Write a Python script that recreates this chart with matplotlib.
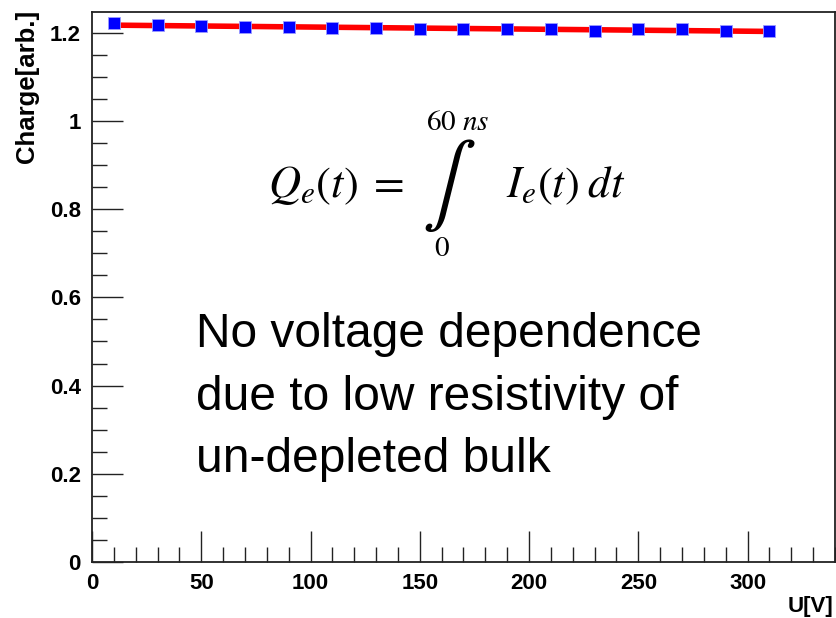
import numpy as np
import matplotlib
matplotlib.use("Agg")
import matplotlib.pyplot as plt
from matplotlib.ticker import MultipleLocator

# ---- data ----
voltage = [10, 30, 50, 70, 90, 110, 130, 150, 170, 190, 210, 230, 250, 270, 290, 310]
charge = [1.222, 1.218, 1.215, 1.212, 1.212, 1.211, 1.211, 1.208, 1.208, 1.208,
          1.208, 1.204, 1.208, 1.208, 1.204, 1.204]
x_ticks = [0, 50, 100, 150, 200, 250, 300]
y_ticks = [0, 0.2, 0.4, 0.6, 0.8, 1.0, 1.2]
y_tick_labels = ["0", "0.2", "0.4", "0.6", "0.8", "1", "1.2"]
x_label = "U[V]"
y_label = "Charge[arb.]"
note = "No voltage dependence\ndue to low resistivity of\nun-depleted bulk"

W, H = 836, 618
plt.rcParams["mathtext.fontset"] = "stix"
fig = plt.figure(figsize=(W / 100, H / 100), dpi=100)
ax = fig.add_axes([92 / W, 1 - 562 / H, (835 - 92) / W, (562 - 12) / H])

# fit line
coef = np.polyfit(voltage, charge, 1)
xf = np.array([voltage[0], voltage[-1]])
ax.plot(xf, np.polyval(coef, xf), color="#ff0000", lw=4, solid_capstyle="butt", zorder=2)
ax.plot(voltage, charge, ls="none", marker="s", ms=9, mfc="#0000ff",
        mec="#9c9cff", mew=0.6, zorder=3)

ax.set_xlim(0, 340)
ax.set_ylim(0, 1.247)
ax.set_xticks(x_ticks)
ax.set_yticks(y_ticks)
ax.set_yticklabels(y_tick_labels)
ax.xaxis.set_minor_locator(MultipleLocator(10))
ax.yaxis.set_minor_locator(MultipleLocator(0.05))
ax.tick_params(which="both", direction="in", top=False, right=False, color="#222222", width=1)
ax.tick_params(which="major", length=22)
ax.tick_params(which="minor", length=11)
ax.tick_params(axis="x", which="major", pad=8)
ax.tick_params(axis="y", which="major", pad=8)
for lab in ax.get_xticklabels() + ax.get_yticklabels():
    lab.set_fontfamily("Liberation Sans")
    lab.set_fontweight("bold")
    lab.set_fontsize(16)
for s in ax.spines.values():
    s.set_color("#222222")
    s.set_linewidth(1.3)


def px(x, y):
    return (x / W, 1 - y / H)


fig.text(*px(833, 617), x_label, ha="right", va="bottom",
         fontfamily="Liberation Sans", fontweight="bold", fontsize=16)
fig.text(*px(27, 10), y_label, ha="center", va="top", rotation=90,
         fontfamily="Liberation Sans", fontweight="bold", fontsize=18.5)

# formula
fig.text(*px(268, 197), r"$Q_e(t)\;=$", ha="left", va="baseline", fontsize=32)
fig.text(*px(449, 186), r"$\int$", ha="center", va="center", fontsize=58)
fig.text(*px(458, 130), r"$60\ ns$", ha="center", va="baseline", fontsize=21)
fig.text(*px(442, 256), r"$0$", ha="center", va="baseline", fontsize=21)
fig.text(*px(506, 197), r"$I_e(t)\;dt$", ha="left", va="baseline", fontsize=32)

fig.text(*px(196, 472), note, ha="left", va="baseline", fontfamily="Liberation Sans",
         fontsize=34.5, linespacing=1.5)

fig.savefig("out.png", dpi=100)
